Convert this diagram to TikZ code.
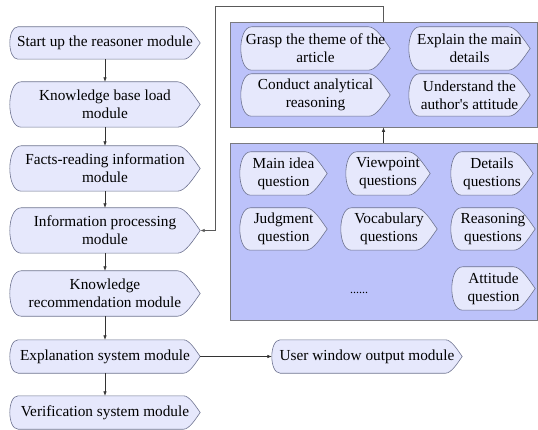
\documentclass[tikz,border=0pt]{standalone}
\usepackage{fontspec}
\setmainfont{Liberation Serif}[Ligatures=TeXOff]
\usetikzlibrary{calc,arrows.meta}
\definecolor{nodefill}{HTML}{E6E8FC}
\definecolor{nodeline}{HTML}{6E7390}
\definecolor{panelfill}{HTML}{BCC2FA}
\definecolor{panelline}{HTML}{7A7A80}
\pgfdeclarelayer{bg}\pgfdeclarelayer{mid}
\pgfsetlayers{bg,mid,main}
\newcommand\dispdraw[1]{%
  \path[dispshape] let \p1=(#1.north west), \p2=(#1.south east),
    \n1={0.25*(\y1-\y2)}, \n2={0.5*(\y1+\y2)}, \n3={0.21*(\y1-\y2)}, \n4={0.5*(\y1-\y2)} in
    (\x1+\n1,\y1) -- (\x2-\n4,\y1)
    .. controls (\x2-0.65*\n4,\y1) and (\x2-0.3*\n4,\n2+\n3) .. (\x2,\n2)
    .. controls (\x2-0.3*\n4,\n2-\n3) and (\x2-0.65*\n4,\y2) .. (\x2-\n4,\y2)
    -- (\x1+\n1,\y2)
    .. controls (\x1-\n1/3,\y2) and (\x1-\n1/3,\y1) .. (\x1+\n1,\y1) -- cycle;}
\begin{document}
\begin{tikzpicture}[x=1pt,y=-1pt,
  dispshape/.style={fill=nodefill,draw=nodeline,line width=0.6pt},
  box/.style 2 args={inner sep=0pt,align=center,minimum width=#1,minimum height=#2,
    font=\fontsize{15.3}{18}\selectfont},
  panel/.style 2 args={draw=panelline,fill=panelfill,line width=0.7pt,minimum width=#1,minimum height=#2,inner sep=0pt},
  arr/.style={draw=black!80,line width=0.6pt,-{Latex[length=4.5pt,width=3.5pt]}},
  loopline/.style={draw=black!65,line width=0.8pt,-{Latex[length=4.5pt,width=3.5pt]}}]
\useasboundingbox (0,0) rectangle (538,430);
\begin{pgfonlayer}{bg}
\node[panel={307}{105}] (P1) at (383.5,74.5) {};
\node[panel={307}{177}] (P2) at (383.5,231.5) {};
\end{pgfonlayer}
% left column
\node[box={190}{32}] (n1) at (105,43) {Start up the reasoner module};
\node[box={190}{45}] (n2) at (105,104.5) {Knowledge base load\\module};
\node[box={190}{45}] (n3) at (105,168.5) {Facts-reading information\\module};
\node[box={190}{45}] (n4) at (105,230.5) {Information processing\\module};
\node[box={190}{45}] (n5) at (105,293.5) {Knowledge\\recommendation module};
\node[box={190}{33}] (n6) at (105,356.5) {Explanation system module};
\node[box={190}{33}] (n7) at (105,412.5) {Verification system module};
\node[box={190}{33}] (uw) at (367,356.5) {User window output module};
% top panel
\node[box={149}{43}] (t1) at (315.5,48.5) {Grasp the theme of the\\article};
\node[box={121}{43}] (t2) at (469.5,48.5) {Explain the main\\details};
\node[box={149}{42}] (t3) at (315.5,95) {Conduct analytical\\reasoning};
\node[box={121}{42}] (t4) at (469.5,95) {Understand the\\author's attitude};
% bottom panel
\node[box={87}{43}] (b1) at (283.5,173.5) {Main idea\\question};
\node[box={84}{43}] (b2) at (388,173.5) {Viewpoint\\questions};
\node[box={82}{43}] (b3) at (492,173.5) {Details\\questions};
\node[box={87}{42}] (b4) at (283.5,229) {Judgment\\question};
\node[box={96}{42}] (b5) at (389,229) {Vocabulary\\questions};
\node[box={84}{42}] (b6) at (493,229) {Reasoning\\questions};
\node[box={83}{43}] (b7) at (493.5,288.5) {Attitude\\question};
\node[inner sep=0pt,font=\fontsize{12}{14}\selectfont] (dots) at (359,292.5) {......};
\begin{pgfonlayer}{mid}
\foreach \nm in {n1,n2,n3,n4,n5,n6,n7,uw,t1,t2,t3,t4,b1,b2,b3,b4,b5,b6,b7} {\dispdraw{\nm}}
\end{pgfonlayer}
% connectors
\draw[arr] (n1.south) -- (n2.north);
\draw[arr] (n2.south) -- (n3.north);
\draw[arr] (n3.south) -- (n4.north);
\draw[arr] (n4.south) -- (n5.north);
\draw[arr] (n5.south) -- (n6.north);
\draw[arr] (n6.south) -- (n7.north);
\draw[arr] (n6.east) -- (uw.west);
\draw[arr] (P2.north) -- (P1.south);
\coordinate (c1) at (383.5,6);
\coordinate (c2) at (215,6);
\draw[loopline] (P1.north) -- (c1) -- (c2) |- (n4.east);
\end{tikzpicture}
\end{document}
